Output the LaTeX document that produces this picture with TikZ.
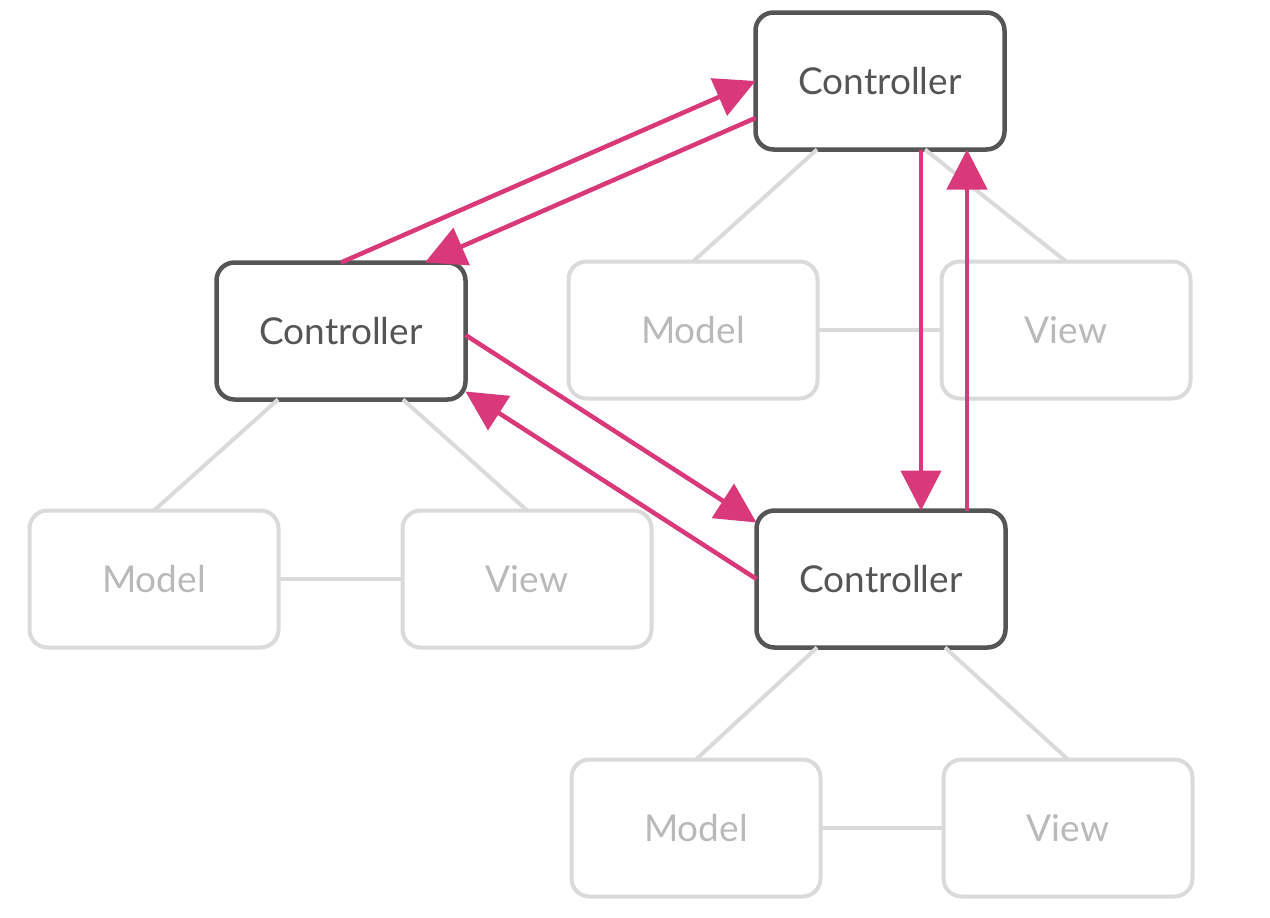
\documentclass[tikz,border=0pt]{standalone}
\usepackage{fontspec}
\setmainfont{Lato}
\usetikzlibrary{arrows.meta}
\definecolor{pinkc}{RGB}{217,56,122}
\definecolor{darkc}{RGB}{85,85,85}
\definecolor{lightc}{RGB}{218,218,218}
\definecolor{lighttext}{RGB}{185,185,185}
\tikzset{
  ctrl/.style={draw=darkc,line width=4.5pt,fill=white,rounded corners=18pt,minimum width=249pt,minimum height=137pt,inner sep=0pt,outer sep=0pt,text=darkc,font=\fontsize{37}{40}\selectfont},
  faded/.style={draw=lightc,line width=4pt,fill=white,rounded corners=18pt,minimum width=249pt,minimum height=137pt,inner sep=0pt,outer sep=0pt,text=lighttext,font=\fontsize{37}{40}\selectfont},
  link/.style={draw=lightc,line width=4pt},
  flow/.style={draw=pinkc,line width=4.5pt,-{Triangle[length=40pt,width=40pt]}}
}
\begin{document}
\begin{tikzpicture}[x=1pt,y=-1pt]
\useasboundingbox (0,0) rectangle (1270,918);
% faded nodes
\node[faded] (m1) at (693,330) {Model};
\node[faded] (v1) at (1066,330) {View};
\node[faded] (m2) at (154,579) {Model};
\node[faded] (v2) at (527,579) {View};
\node[faded] (m3) at (696,828) {Model};
\node[faded] (v3) at (1068,828) {View};
% controllers
\node[ctrl] (c1) at (880,81) {Controller};
\node[ctrl] (c2) at (341,331) {Controller};
\node[ctrl] (c3) at (881,579) {Controller};
% links
\draw[link] ([xshift=-63pt]c1.south) -- (m1.north);
\draw[link] ([xshift=45pt]c1.south) -- (v1.north);
\draw[link] (m1.east) -- (v1.west);
\draw[link] ([xshift=-63pt]c2.south) -- (m2.north);
\draw[link] ([xshift=62pt]c2.south) -- (v2.north);
\draw[link] (m2.east) -- (v2.west);
\draw[link] ([xshift=-64pt]c3.south) -- (m3.north);
\draw[link] ([xshift=64pt]c3.south) -- (v3.north);
\draw[link] (m3.east) -- (v3.west);
% pink flows
\draw[flow] (c2.north) -- (c1.west);
\draw[flow] ([yshift=-37pt]c1.west) -- ([xshift=84pt]c2.north);
\draw[flow] ([yshift=-4pt]c2.east) -- ([yshift=-12pt]c3.north west);
\draw[flow] (c3.west) -- ([yshift=8pt]c2.south east);
\draw[flow] ([xshift=41pt]c1.south) -- ([xshift=40pt]c3.north);
\draw[flow] ([xshift=86pt]c3.north) -- ([xshift=87pt]c1.south);
\end{tikzpicture}
\end{document}
